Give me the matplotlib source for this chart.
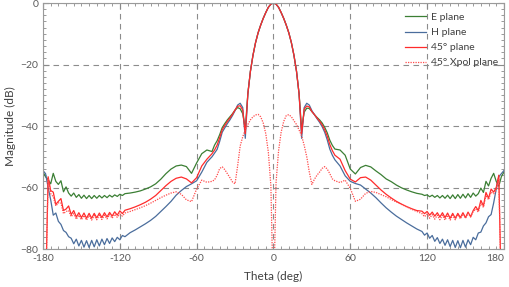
import numpy as np
import matplotlib
matplotlib.use('Agg')
import matplotlib.pyplot as plt
from matplotlib.ticker import MultipleLocator

plt.rcParams['font.family'] = ['Lato', 'DejaVu Sans']

# angle samples (deg): coarse on the slopes, finer where the ripples are
theta = np.concatenate([np.arange(-180, -177, 2), np.arange(-176, -115, 2),
                        np.arange(-112, -47, 4), np.arange(-46, 47, 2),
                        np.arange(48, 113, 4), np.arange(116, 177, 2),
                        np.arange(178, 181, 2)])

# main lobe, -20..20 deg, same for the three co-pol cuts
main_beam = [-29.5, -22.2, -17, -12.9, -9.7, -7.2, -5, -3.1, -1.4, -0.35, 0,
             -0.35, -1.4, -3.1, -5, -7.2, -9.7, -12.9, -17, -22.2, -29.5]

e_plane = ([-55, -56.5] +
           [-57.5, -58.8, -55.4, -58, -59, -57.8, -61.4, -59.8, -61.8, -62.8, -61.8,
            -63.2, -62.3, -63.5, -62.5, -63.6, -62.6, -63.6, -62.6, -63.5, -62.6,
            -63.4, -62.6, -63.3, -62.5, -63.1, -62.4, -62.9, -62.2, -62.6, -62] +
           [-61.8, -61.5, -61.1, -60.5, -59.8, -58.8, -57.3, -55.5, -54, -53, -52.7,
            -53.2, -55.4, -52, -49, -47.8, -48.3] +
           [-46.2, -44.8, -42.8, -40.5, -39.2, -38, -37, -36, -34.8, -34, -34.4, -36, -41] +
           main_beam +
           [-41, -35.5, -34.2, -34.3, -35.3, -36.3, -37.2, -38, -39, -40.4, -42.2, -44.6, -46.3] +
           [-47.5, -47.8, -49.5, -54, -55.6, -53.5, -52.8, -53.3, -54.6, -55.8, -57.2,
            -58.1, -59.2, -60.1, -60.8, -61.4, -61.9] +
           [-62.2, -62.6, -62.4, -63, -62.5, -63.2, -62.6, -63.4, -62.6, -63.5, -62.5,
            -63.6, -62.4, -63.6, -62.3, -63.5, -62.2, -63.4, -62, -63.2, -61.8, -62.8,
            -62, -60.2, -61.6, -58, -59.5, -57, -55.4, -58, -59.6] +
           [-56.5, -55])

h_plane = ([-54.5, -55.5] +
           [-60, -64, -69, -68.3, -71, -72, -74, -74.6, -76, -76.5, -78.3, -76.8, -79,
            -77.2, -79.4, -77.3, -79.5, -77.2, -79.3, -77, -79, -76.8, -78.6, -76.6,
            -78.2, -76.4, -77.6, -76.2, -77, -75.6, -76] +
           [-74.7, -73.8, -72.8, -71.8, -70.7, -69.4, -67.8, -66.2, -64.5, -62.5, -61,
            -59.7, -58.8, -57.8, -55, -51.8, -50] +
           [-48.8, -47.6, -45, -42, -40.6, -39.2, -38, -36.6, -35, -33.2, -32.6, -34, -44] +
           main_beam +
           [-44, -34, -32.6, -33.2, -35, -36.3, -37.6, -38.8, -40.2, -42, -44.5, -47.5, -49.5] +
           [-51, -53, -56.2, -58, -58.7, -59.2, -60.5, -61.8, -63.3, -65, -66.6, -68,
            -69.3, -70.4, -71.5, -72.5, -73.5] +
           [-74.3, -75.5, -74.8, -76.5, -75.6, -77.5, -76.3, -78.2, -76.8, -78.8, -77,
            -79.2, -77.2, -79.5, -77.3, -79.6, -77.2, -79.4, -77, -78.6, -76.2, -77,
            -74.8, -74.5, -72.5, -71.5, -69.5, -68.8, -65, -60.5, -56.5] +
           [-55.5, -54.5])

plane_45 = ([-95, -95] +
            [-56.5, -61, -61.5, -65.5, -64.5, -63.6, -67.5, -67, -66, -68.8, -67.5,
             -69.6, -68.2, -69.8, -68.3, -70, -68.4, -70, -68.4, -69.9, -68.3, -69.8,
             -68.2, -69.6, -68.1, -69.3, -67.9, -69, -67.6, -68.5, -67.4] +
            [-66.9, -66.3, -65.6, -64.8, -63.8, -62.6, -61, -59.4, -58, -57, -56.6,
             -57.2, -58.5, -56.8, -53, -50.8, -49] +
            [-47.8, -46.2, -43.8, -41.2, -39.8, -38.5, -37.4, -36.2, -34.8, -33.6, -33.4, -34.8, -42.5] +
            main_beam +
            [-42.5, -34.5, -33.5, -33.8, -35.3, -36.3, -37.4, -38.4, -39.6, -41.2, -43.3, -46, -48] +
            [-49.5, -50.8, -54.5, -57.3, -58.2, -56.8, -56.6, -57.6, -59.2, -60.8, -62.2,
             -63.4, -64.5, -65.4, -66.2, -66.9, -67.5] +
            [-67.7, -68.5, -67.8, -69, -68, -69.3, -68.2, -69.6, -68.2, -69.8, -68.3,
             -70, -68.4, -70, -68.4, -69.8, -68.2, -69.8, -68, -69.5, -67.5, -66.2,
             -67.5, -64.2, -66, -61.6, -63.5, -60.5, -61.5, -60, -56] +
            [-95, -95])

xpol_45 = ([-95, -95] +
           [-57, -62, -63, -66, -65, -65, -68.5, -67.8, -67.5, -69.5, -68.5, -70.3,
            -69, -70.5, -69.1, -70.6, -69.1, -70.6, -69.1, -70.5, -69, -70.4, -69,
            -70.2, -68.8, -70, -68.7, -69.7, -68.6, -69.3, -68.3] +
           [-67.8, -67.2, -66.6, -65.9, -65.1, -64.2, -63.3, -62.5, -61.8, -61.4, -62.2,
            -64, -64.6, -60.5, -57.6, -58.3, -58] +
           [-57.5, -56, -53.8, -53.3, -54.2, -55.5, -56.8, -58.2, -58.8, -53, -46.5,
            -43.5, -41.2, -39.5, -38, -37, -36.4, -36.2, -37, -39, -42.5, -48.5, -59.5,
            -100,
            -58.5, -48, -42, -38.5, -36.6, -36.3, -37, -38.3, -39.5, -41.3, -43.2, -46.3,
            -50, -55, -59, -57.3, -56, -55, -53.8, -53.2, -54, -55.5, -57.2] +
           [-57.8, -58.4, -57.6, -60.3, -64.5, -63.8, -61.9, -61.3, -61.6, -62.3, -63,
            -63.9, -64.7, -65.5, -66.3, -67.1, -67.8] +
           [-68.5, -69.5, -68.6, -70, -68.8, -70.3, -69, -70.5, -69, -70.6, -69, -70.6,
            -69, -70.5, -68.8, -70.2, -68.6, -70, -68.3, -69.6, -67.8, -67, -68, -65,
            -66.5, -62.5, -64, -61.5, -62, -61, -57] +
           [-95, -95])

labels = ['E plane', 'H plane', '45° plane', '45° Xpol plane']
x_ticks = [-180, -120, -60, 0, 60, 120, 180]

fig = plt.figure(figsize=(5.09, 2.87), dpi=100)
ax = fig.add_axes([0.0845, 0.1324, 0.9055, 0.8571])

ax.plot(theta, e_plane, color='#3b7f34', lw=0.9, label=labels[0])
ax.plot(theta, h_plane, color='#4a6d9c', lw=0.9, label=labels[1])
ax.plot(theta, plane_45, color='#ff2b2b', lw=0.9, label=labels[2])
ax.plot(theta, xpol_45, color='#ff4a4a', lw=0.9, ls=(0, (1, 1)), label=labels[3])

ax.set_xlim(-180, 180)
ax.set_ylim(-80, 0)
ax.set_xticks(x_ticks, [str(t) for t in x_ticks])
ax.xaxis.set_minor_locator(MultipleLocator(6))
ax.yaxis.set_major_locator(MultipleLocator(20))
ax.yaxis.set_minor_locator(MultipleLocator(2))
ax.tick_params(which='both', direction='in', top=True, right=True,
               colors='#8a8a8a', labelcolor='#5a5a5a', labelsize=7.5)
ax.tick_params(which='major', length=4)
ax.tick_params(which='minor', length=2.5)
ax.grid(True, which='major', ls=(0, (5, 4)), color='#8c8c8c', lw=0.8)
for s in ax.spines.values():
    s.set_color('#9a9a9a')

# the last x label would run off the figure
ax.get_xticklabels()[-1].set_horizontalalignment('right')

ax.set_xlabel('Theta (deg)', fontsize=8.5, color='#404040', labelpad=6)
ax.set_ylabel('Magnitude (dB)', fontsize=8.5, color='#404040', labelpad=3)

leg = ax.legend(loc='upper left', bbox_to_anchor=(0.785, 0.96), frameon=False,
                fontsize=7.5, handlelength=2.0, handletextpad=0.5,
                labelspacing=0.55, borderpad=0, borderaxespad=0)
for t in leg.get_texts():
    t.set_color('#404040')

fig.savefig('out.png', dpi=100)
